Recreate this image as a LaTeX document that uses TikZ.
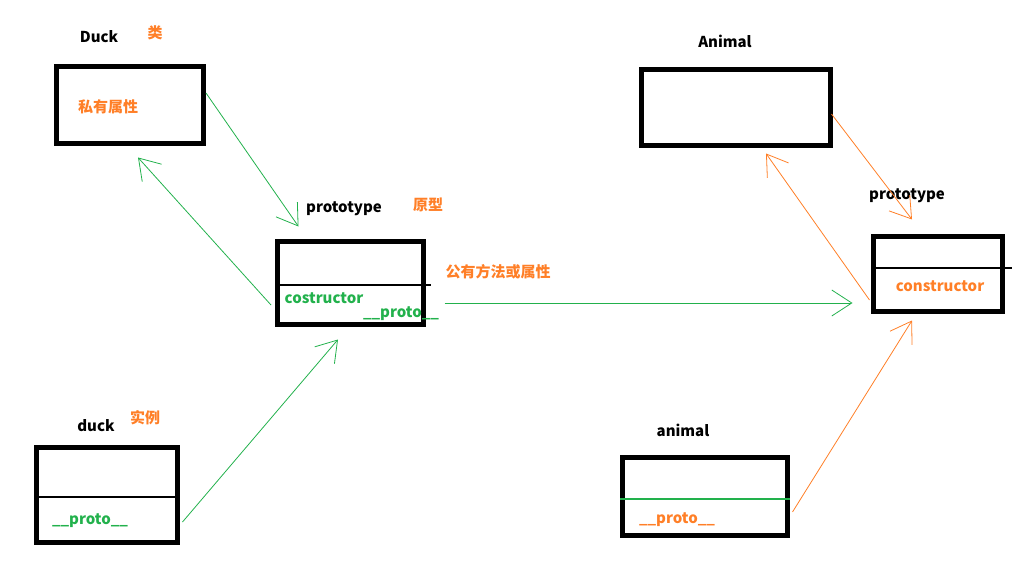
\documentclass[tikz,border=0pt]{standalone}
\usepackage{fontspec}
\setmainfont{Noto Sans CJK SC}
\usetikzlibrary{arrows.meta, positioning, calc}
\definecolor{PaintGreen}{RGB}{34, 177, 76}
\definecolor{PaintOrange}{RGB}{255, 127, 39}

\begin{document}
\begin{tikzpicture}[x=1pt, y=-1pt, font=\bfseries\fontsize{15}{17}\selectfont,
  objbox/.style={draw, line width=5pt, inner sep=0pt},
  lbl/.style={inner sep=0pt},
  grnlink/.style={PaintGreen, line width=0.8pt, -{Straight Barb[length=20pt, width=26pt]}},
  orglink/.style={PaintOrange, line width=0.8pt, -{Straight Barb[length=20pt, width=26pt]}}]
\useasboundingbox (0,0) rectangle (1012,567);
% boxes
\node[objbox, minimum width=147pt, minimum height=77pt] (Duckbox) at (130,105) {};
\node[objbox, minimum width=146pt, minimum height=83pt] (protoL) at (350.5,283) {};
\node[objbox, minimum width=141pt, minimum height=95pt] (duckbox) at (107,495) {};
\node[objbox, minimum width=189pt, minimum height=76pt] (Animalbox) at (736,107.5) {};
\node[objbox, minimum width=129pt, minimum height=75pt] (protoR) at (938,274) {};
\node[objbox, minimum width=165pt, minimum height=78pt] (animalbox) at (705,496.5) {};
% dividers
\draw[line width=1.3pt] ($(protoL.west)+(0,2)$) -- ($(protoL.east)+(4.5,2)$);
\draw[line width=1.3pt] ($(duckbox.west)+(0,2)$) -- ($(duckbox.east)+(0,2)$);
\draw[line width=1.3pt] ($(protoR.west)+(0,-6)$) -- ($(protoR.east)+(7.5,-6)$);
\draw[PaintGreen, line width=1.3pt] ($(animalbox.west)+(0,2.5)$) -- ($(animalbox.east)+(0,2.5)$);
% labels
\node[lbl] (tDuck) at (99,37) {Duck};
\node[lbl, text=PaintOrange] (tLei) at (155,33) {类};
\node[lbl, text=PaintOrange] (tPriv) at (108,107) {私有属性};
\node[lbl] (tProtoL) at (344,209) {prototype};
\node[lbl, text=PaintOrange] (tYuan) at (428,205) {原型};
\node[lbl, text=PaintGreen] (tCostr) at (324,298) {costructor};
\node[lbl, text=PaintGreen] (tProtoLp) at (401,314) {\_\_proto\_\_};
\node[lbl, text=PaintOrange] (tPub) at (498,272) {公有方法或属性};
\node[lbl] (tduck) at (96,426) {duck};
\node[lbl, text=PaintOrange] (tShili) at (145,418) {实例};
\node[lbl, text=PaintGreen] (tduckp) at (90,521) {\_\_proto\_\_};
\node[lbl] (tAnimal) at (725,41) {Animal};
\node[lbl] (tProtoR) at (907,196) {prototype};
\node[lbl, text=PaintOrange] (tConstr) at (940,286) {constructor};
\node[lbl] (tanimal) at (683,430) {animal};
\node[lbl, text=PaintOrange] (tanimalp) at (677,520) {\_\_proto\_\_};
% links
\draw[grnlink] ($(Duckbox.east)+(0,-12)$) -- ($(protoL.north west)+(23.5,-12.5)$);
\draw[grnlink] ($(protoL.west)+(-4,22)$) -- ($(Duckbox.south)+(8,11.5)$);
\draw[grnlink] ($(duckbox.east)+(2.5,27)$) -- ($(protoL.south)+(-12.5,12.5)$);
\draw[grnlink] ($(protoL.east)+(18.5,20)$) -- ($(protoR.west)+(-18.5,29)$);
\draw[orglink] ($(Animalbox.east)+(-1.5,6.5)$) -- ($(protoR.north)+(-26,-14.5)$);
\draw[orglink] ($(protoR.west)+(-1.5,26)$) -- ($(Animalbox.south)+(30,5.5)$);
\draw[orglink] ($(animalbox.east)+(2.5,15.5)$) -- ($(protoR.south)+(-26,6.5)$);
\end{tikzpicture}
\end{document}
